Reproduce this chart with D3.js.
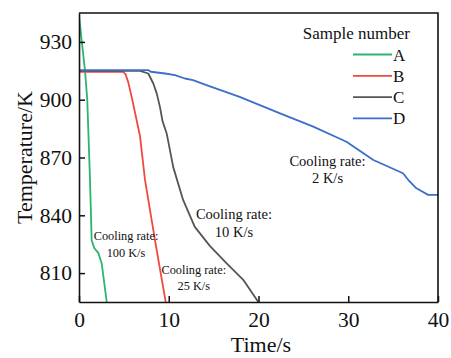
<!DOCTYPE html>
<html>
<head>
<meta charset="utf-8">
<script src="https://cdn.jsdelivr.net/npm/d3@7"></script>
<style>
  body { margin: 0; background: #fff; }
  text { font-family: "Liberation Serif", "Times New Roman", serif; fill: #111; }
</style>
</head>
<body>
<div id="chart"></div>
<script>
// Data: [time (s), temperature (K)]
const sampleA = [[0, 943.5], [0.67, 915], [0.92, 900], [1.23, 858], [1.41, 827], [1.7, 823], [2.15, 820.5], [2.53, 815], [3.09, 795]];
const sampleB = [[0, 914.5], [4.94, 914.5], [5.2, 913], [5.49, 909], [5.94, 900], [6.8, 881], [7.35, 858.5], [8.47, 827], [9.66, 795]];
const sampleC = [[0, 915], [6.8, 915], [7.72, 913.6], [8.28, 908.4], [8.66, 903.3], [9.03, 896], [9.3, 889], [9.77, 882.5], [10.5, 865], [11.6, 848], [12.9, 834], [14.6, 824], [16.45, 815], [18.3, 806.5], [19.98, 795]];
const sampleD = [[0, 915.4], [7.7, 915.4], [8.0, 914.5], [9.6, 913.6], [10.7, 912.8], [11.8, 911], [12.7, 910.2], [14.2, 907.6], [17.9, 901.5], [22.4, 892.9], [26.1, 886], [29.8, 878.2], [32.8, 868.7], [36.1, 861.8], [36.7, 858.3], [37.6, 854], [38.9, 850.6], [40, 850.6]];

const seriesNames = ["A", "B", "C", "D"];
const seriesColors = ["#2bb56e", "#ef4a3f", "#555555", "#3a6fcc"];
const xTicks = [0, 10, 20, 30, 40];
const yTicks = [810, 840, 870, 900, 930];

// Annotation anchors in data units (time, temperature of first baseline)
const annotations = [
  { t: 27.69, T: 865.6, lines: ["Cooling rate:", "2 K/s"], size: 14.5, gap: 17.3 },
  { t: 17.27, T: 838.3, lines: ["Cooling rate:", "10 K/s"], size: 14.5, gap: 18.5 },
  { t: 12.79, T: 809.5, lines: ["Cooling rate:", "25 K/s"], size: 12.3, gap: 16 },
  { t: 5.24, T: 827.2, lines: ["Cooling rate:", "100 K/s"], size: 12.3, gap: 16.7 }
];

const width = 451, height = 358;
const margin = {top: 13, right: 13, bottom: 56, left: 79};

const svg = d3.select("#chart")
  .append("svg")
  .attr("width", width)
  .attr("height", height);

const xScale = d3.scaleLinear().domain([0, 40]).range([margin.left, width - margin.right]);
const yScale = d3.scaleLinear().domain([795, 945]).range([height - margin.bottom, margin.top]);

const color = d3.scaleOrdinal().domain(seriesNames).range(seriesColors);

svg.append("clipPath").attr("id", "plot-clip")
  .append("rect")
  .attr("x", margin.left)
  .attr("y", margin.top)
  .attr("width", xScale(40) - xScale(0))
  .attr("height", yScale(795) - yScale(945));

// Lines
const lineGenerator = d3.line().x(d => xScale(d[0])).y(d => yScale(d[1]));
const allData = [sampleA, sampleB, sampleC, sampleD];

svg.append("g")
  .attr("clip-path", "url(#plot-clip)")
  .selectAll("path")
  .data(seriesNames.map((name, i) => ({name: name, values: allData[i]})))
  .join("path")
  .attr("fill", "none")
  .attr("stroke", d => color(d.name))
  .attr("stroke-width", 1.8)
  .attr("stroke-linejoin", "round")
  .attr("d", d => lineGenerator(d.values));

// Axes (ticks pointing inward)
const xAxis = svg.append("g")
  .attr("transform", `translate(0, ${height - margin.bottom})`)
  .call(d3.axisBottom(xScale).tickValues(xTicks).tickSize(-6).tickPadding(10).tickSizeOuter(0));

const yAxis = svg.append("g")
  .attr("transform", `translate(${margin.left}, 0)`)
  .call(d3.axisLeft(yScale).tickValues(yTicks).tickSize(-6).tickPadding(7).tickSizeOuter(0));

[xAxis, yAxis].forEach(ax => {
  ax.select(".domain").attr("stroke", "#111").attr("stroke-width", 1.6);
  ax.selectAll(".tick line").attr("stroke", "#111").attr("stroke-width", 1.5);
  ax.selectAll(".tick text")
    .style("font-family", '"Liberation Serif", "Times New Roman", serif')
    .style("font-size", "21.5px")
    .attr("fill", "#111");
});

// Top and right border
svg.append("path")
  .attr("fill", "none")
  .attr("stroke", "#111")
  .attr("stroke-width", 1.6)
  .attr("d", `M${xScale(0)},${yScale(945)}H${xScale(40)}V${yScale(795)}`);

// Axis titles
svg.append("text")
  .attr("x", 261)
  .attr("y", 352)
  .attr("text-anchor", "middle")
  .style("font-size", "22px")
  .text("Time/s");

svg.append("text")
  .attr("transform", `translate(32, ${(yScale(945) + yScale(795)) / 2}) rotate(-90)`)
  .attr("text-anchor", "middle")
  .style("font-size", "22px")
  .text("Temperature/K");

// Legend
const legend = svg.append("g");
legend.append("text")
  .attr("x", 410)
  .attr("y", 39)
  .attr("text-anchor", "end")
  .style("font-size", "17px")
  .text("Sample number");

const legendItems = legend.selectAll(".legend-item")
  .data(seriesNames)
  .join("g")
  .attr("class", "legend-item")
  .attr("transform", (d, i) => `translate(0, ${54.5 + i * 21.3})`);

legendItems.append("line")
  .attr("x1", 353)
  .attr("x2", 392)
  .attr("stroke", d => color(d))
  .attr("stroke-width", 1.8);

legendItems.append("text")
  .attr("x", 393)
  .attr("y", 6)
  .style("font-size", "17px")
  .text(d => d);

// Cooling rate annotations
annotations.forEach(a => {
  const g = svg.append("text")
    .attr("text-anchor", "middle")
    .style("font-size", a.size + "px");
  a.lines.forEach((l, i) => {
    g.append("tspan")
      .attr("x", xScale(a.t))
      .attr("y", yScale(a.T) + i * a.gap)
      .text(l);
  });
});
</script>
</body>
</html>
